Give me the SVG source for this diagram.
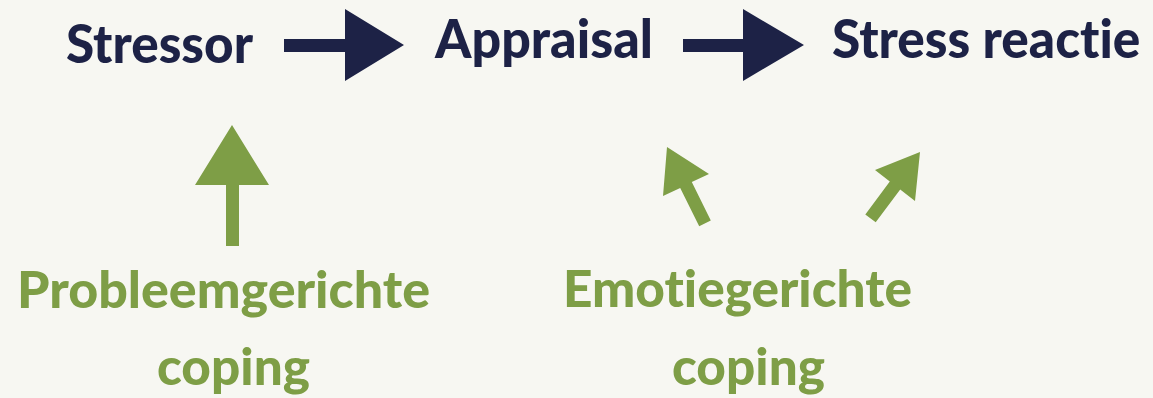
<svg xmlns="http://www.w3.org/2000/svg" width="1153" height="398" viewBox="0 0 1153 398">
  <style>
    text { font-family: Lato, "Liberation Sans", sans-serif; font-weight: 900; font-variant-ligatures: none; font-feature-settings: "liga" 0, "clig" 0; }
    .navy { fill: #1d2246; font-size: 54px; }
    .green { fill: #7e9e46; font-size: 52px; }
    .navyfill { fill: #1d2246; }
    .greenfill { fill: #7e9e46; }
  </style>
  <rect width="1153" height="398" fill="#f7f7f2"/>
  <g id="stressor"><text class="navy" x="66" y="63" textLength="187" lengthAdjust="spacingAndGlyphs">Stressor</text></g>
  <g id="appraisal"><text class="navy" x="435" y="58" textLength="218" lengthAdjust="spacingAndGlyphs">Appraisal</text></g>
  <g id="stress-reactie"><text class="navy" transform="translate(832,58) scale(0.82,1)" x="0" y="0" textLength="376" lengthAdjust="spacingAndGlyphs">Stress reactie</text></g>
  <g id="probleemgerichte-coping">
    <text class="green" x="17" y="308" textLength="413" lengthAdjust="spacingAndGlyphs">Probleemgerichte</text>
    <text class="green" x="157" y="385" textLength="153" lengthAdjust="spacingAndGlyphs">coping</text>
  </g>
  <g id="emotiegerichte-coping">
    <text class="green" x="563" y="307" textLength="349" lengthAdjust="spacingAndGlyphs">Emotiegerichte</text>
    <text class="green" x="672" y="385" textLength="153" lengthAdjust="spacingAndGlyphs">coping</text>
  </g>
  <g id="connectors">
    <polygon class="navyfill" points="284,39 345,39 345,9 404,45 345,81 345,52 284,52"/>
    <polygon class="navyfill" points="683,39 743,39 743,9 804,45 743,81 743,52 683,52"/>
    <polygon class="greenfill" points="232,125 269,185 239,185 239,246 226,246 226,185 195,185"/>
    <polygon class="greenfill" points="667,147 709,174 691.8,182.1 710.8,220.5 699.2,226.3 680.2,187.9 663,196"/>
    <polygon class="greenfill" points="920,152 915,201 900.2,189.4 875.7,222.2 865.3,214.4 889.8,181.6 875,170"/>
  </g>
</svg>
